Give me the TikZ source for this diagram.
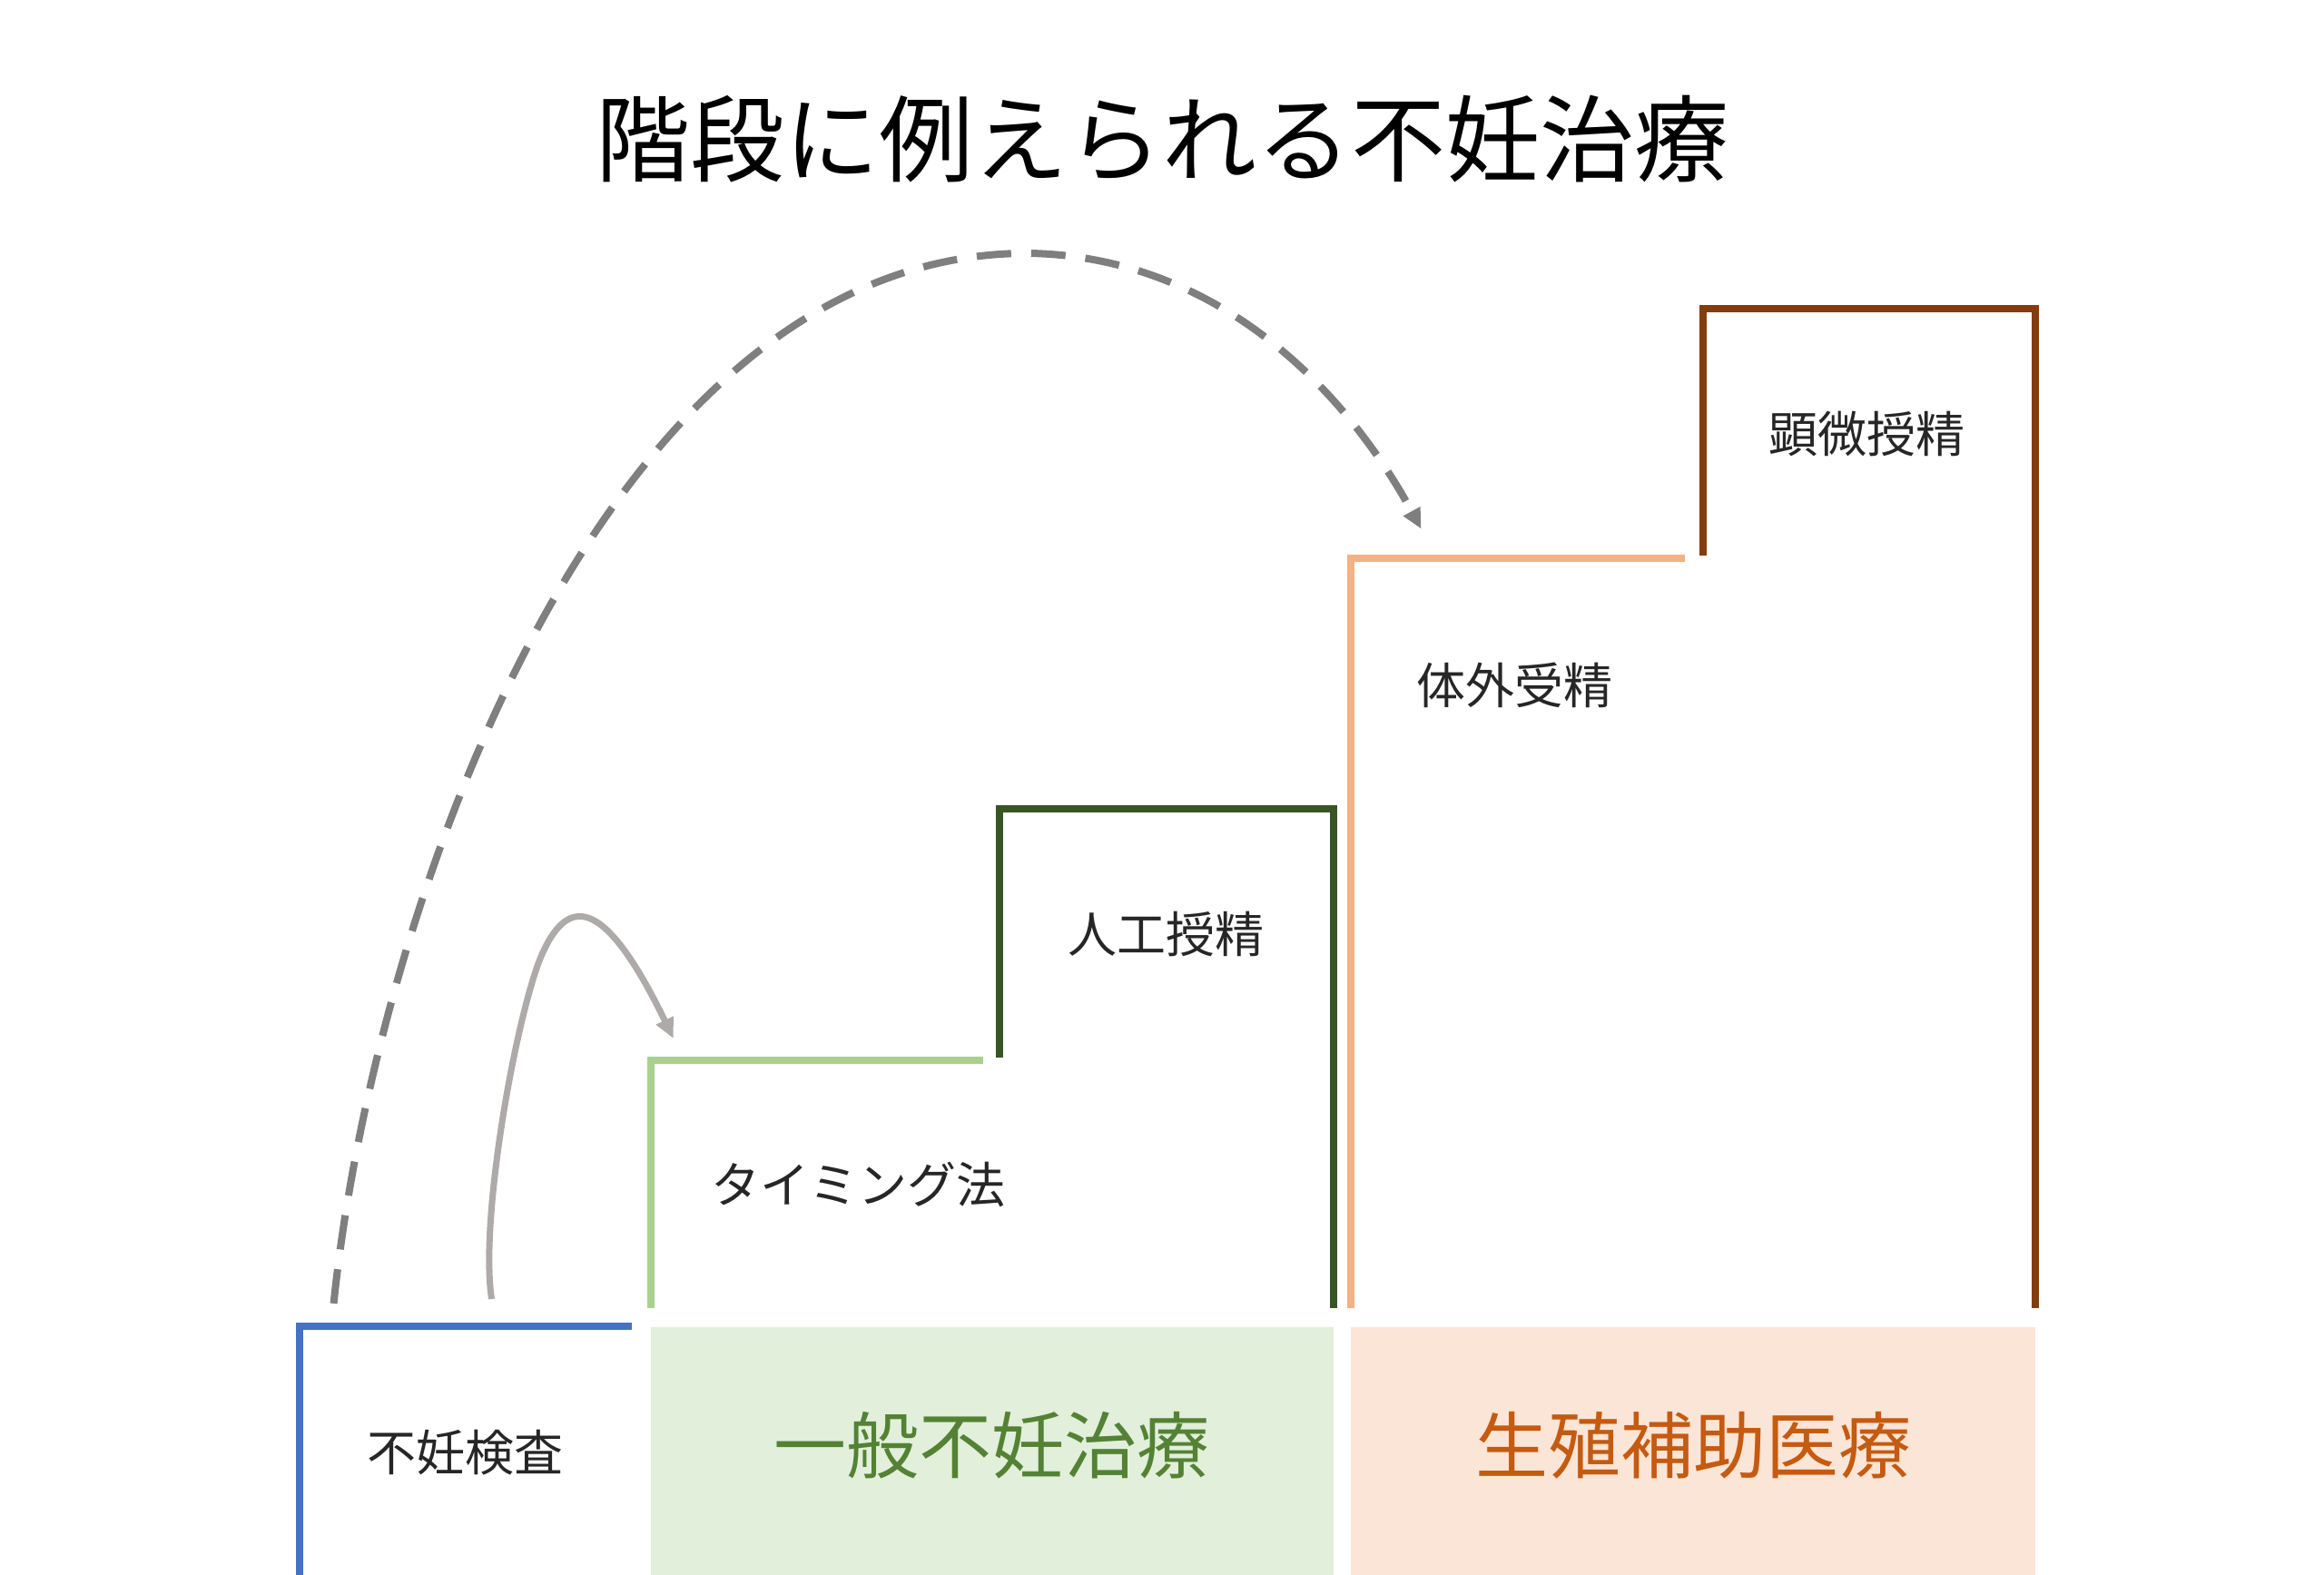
\documentclass[tikz,border=0pt]{standalone}
\usepackage{fontspec}
\setmainfont{Noto Sans CJK JP}
\usetikzlibrary{arrows.meta}
\definecolor{cblue}{HTML}{4472C4}
\definecolor{lgreen}{HTML}{A9D18E}
\definecolor{dgreen}{HTML}{375623}
\definecolor{peach}{HTML}{F4B183}
\definecolor{brown}{HTML}{843C0C}
\definecolor{gfill}{HTML}{E2EFDA}
\definecolor{ofill}{HTML}{FBE5D6}
\definecolor{gtext}{HTML}{548235}
\definecolor{otext}{HTML}{C55A11}
\begin{document}
\begin{tikzpicture}[x=1.641pt,y=-1.641pt,
  stair/.style={line width=8pt},
  lab/.style={font=\fontsize{54}{60}\selectfont,text=black!85},
  big/.style={font=\fontsize{80}{90}\selectfont}]
\useasboundingbox (0,0) rectangle (1560,1057);
\node[font=\fontsize{104}{112}\selectfont] (title) at (780,93) {階段に例えられる不妊治療};
\fill[gfill] (437,891) rectangle (895,1057);
\fill[ofill] (907,891) rectangle (1366,1057);
\node[big,text=gtext] (g) at (666,970) {一般不妊治療};
\node[big,text=otext] (o) at (1137,970) {生殖補助医療};
\draw[stair,cblue] (201,1057) -- (201,890) -- (424,890);
\draw[stair,lgreen] (437,878) -- (437,712) -- (660,712);
\draw[stair,dgreen] (671,710) -- (671,543) -- (895,543) -- (895,878);
\draw[stair,peach] (907,878) -- (907,375) -- (1131,375);
\draw[stair,brown] (1143,373) -- (1143,207) -- (1366,207) -- (1366,878);
\node[lab] (a) at (312,975) {不妊検査};
\node[lab] (b) at (576,795) {タイミング法};
\node[lab] (c) at (783,627) {人工授精};
\node[lab] (d) at (1017,460) {体外受精};
\node[lab] (e) at (1253,291) {顕微授精};
\coordinate (s1) at (330,872); \coordinate (e1) at (452,697);
\coordinate (s2) at (224,875); \coordinate (e2) at (954,355);
\draw[line width=7pt,color={rgb,255:red,174;green,170;blue,170},-{Triangle[length=22pt,width=20pt]}]
  (s1) .. controls (322,820) and (345,690) .. (362,645) .. controls (380,600) and (405,600) .. (e1);
\draw[line width=8pt,color={rgb,255:red,127;green,127;blue,127},dash pattern=on 38pt off 22pt,-{Triangle[length=22pt,width=20pt]}]
  (s2) .. controls (250,620) and (400,170) .. (690,170) .. controls (820,172) and (905,265) .. (e2);
\end{tikzpicture}
\end{document}
